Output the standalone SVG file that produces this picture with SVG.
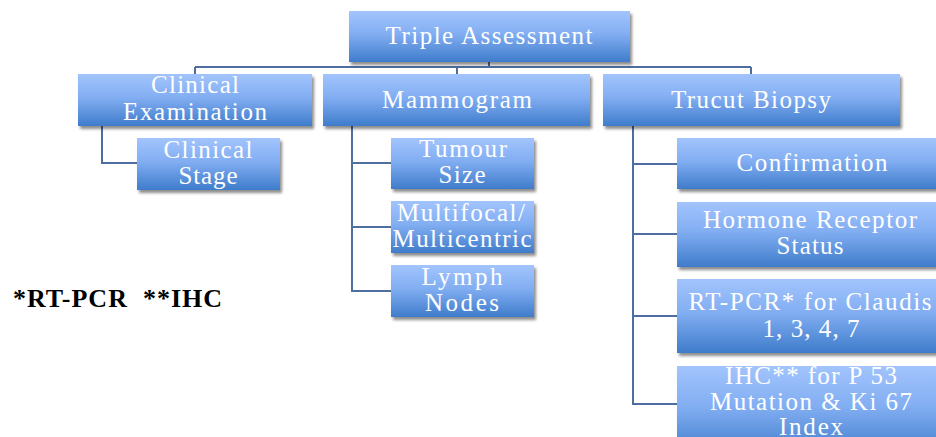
<svg xmlns="http://www.w3.org/2000/svg" width="936" height="437" viewBox="0 0 936 437">
<defs>
<linearGradient id="g" x1="0" y1="0" x2="0" y2="1">
<stop offset="0" stop-color="#A2C4FD"/>
<stop offset="0.45" stop-color="#82AEF2"/>
<stop offset="1" stop-color="#3F7CCB"/>
</linearGradient>
<filter id="sh" x="-10%" y="-10%" width="125%" height="140%">
<feGaussianBlur in="SourceAlpha" stdDeviation="1.6"/>
<feOffset dx="2" dy="3" result="b"/>
<feComponentTransfer><feFuncA type="linear" slope="0.45"/></feComponentTransfer>
<feMerge><feMergeNode/><feMergeNode in="SourceGraphic"/></feMerge>
</filter>
</defs>
<style>
rect.box{fill:url(#g);filter:url(#sh);}
.f{font-family:"Times New Roman",Tinos,Times,"Nimbus Roman","Nimbus Roman No9 L",FreeSerif,"Noto Serif","DejaVu Serif","Liberation Serif",serif;}
text.t{font-size:25px;fill:#ffffff;text-anchor:middle;}
.c path{fill:none;stroke:#4D6E9E;stroke-width:2;}
text.note{font-size:26px;font-weight:bold;fill:#000;}
</style>
<rect width="936" height="437" fill="#ffffff"/>
<g class="c">
<path d="M489 62 V67 M195 67 H751 M195 67 V74 M457 67 V74 M751 67 V74"/>
<path d="M102 126 V163 H137"/>
<path d="M352 126 V291 H391 M352 163 H391 M352 227 H391"/>
<path d="M633 126 V404 H677 M633 164 H677 M633 234 H677 M633 316 H677"/>
</g>
<g class="f">
<g id="n-triple"><rect class="box" x="349" y="11" width="281" height="51"/><text class="t" x="489" y="44" textLength="207" lengthAdjust="spacing">Triple Assessment</text></g>
<g id="n-clinical-exam"><rect class="box" x="78" y="74" width="234" height="52"/><text class="t" x="195" y="93" textLength="88" lengthAdjust="spacing">Clinical</text><text class="t" x="195" y="120" textLength="144" lengthAdjust="spacing">Examination</text></g>
<g id="n-mammogram"><rect class="box" x="323" y="74" width="267" height="52"/><text class="t" x="457" y="108" textLength="150" lengthAdjust="spacing">Mammogram</text></g>
<g id="n-trucut"><rect class="box" x="603" y="74" width="297" height="52"/><text class="t" x="751" y="108" textLength="160" lengthAdjust="spacing">Trucut Biopsy</text></g>
<g id="n-clinical-stage"><rect class="box" x="137" y="138" width="143" height="52"/><text class="t" x="208" y="158" textLength="89" lengthAdjust="spacing">Clinical</text><text class="t" x="208" y="184" textLength="59" lengthAdjust="spacing">Stage</text></g>
<g id="n-tumour"><rect class="box" x="391" y="138" width="143" height="51"/><text class="t" x="463" y="157" textLength="88" lengthAdjust="spacing">Tumour</text><text class="t" x="462" y="183" textLength="47" lengthAdjust="spacing">Size</text></g>
<g id="n-multi"><rect class="box" x="391" y="201" width="143" height="52"/><text class="t" x="461" y="221" textLength="128" lengthAdjust="spacing">Multifocal/</text><text class="t" x="462" y="247" textLength="139" lengthAdjust="spacing">Multicentric</text></g>
<g id="n-lymph"><rect class="box" x="391" y="265" width="143" height="52"/><text class="t" x="462" y="285" textLength="81" lengthAdjust="spacing">Lymph</text><text class="t" x="462" y="311" textLength="74" lengthAdjust="spacing">Nodes</text></g>
<g id="n-confirm"><rect class="box" x="677" y="138" width="270" height="51"/><text class="t" x="812" y="171" textLength="151" lengthAdjust="spacing">Confirmation</text></g>
<g id="n-hormone"><rect class="box" x="677" y="202" width="270" height="65"/><text class="t" x="810" y="228" textLength="214" lengthAdjust="spacing">Hormone Receptor</text><text class="t" x="810" y="254" textLength="67" lengthAdjust="spacing">Status</text></g>
<g id="n-rtpcr"><rect class="box" x="677" y="279" width="270" height="74"/><text class="t" x="810" y="310" textLength="243" lengthAdjust="spacing">RT-PCR* for Claudis</text><text class="t" x="811" y="337" textLength="97" lengthAdjust="spacing">1, 3, 4, 7</text></g>
<g id="n-ihc"><rect class="box" x="677" y="366" width="270" height="90"/><text class="t" x="811" y="384" textLength="172" lengthAdjust="spacing">IHC** for P 53</text><text class="t" x="811" y="410" textLength="202" lengthAdjust="spacing">Mutation &amp; Ki 67</text><text class="t" x="811" y="435" textLength="64" lengthAdjust="spacing">Index</text></g>
<text class="note" x="13" y="307" xml:space="preserve" textLength="209" lengthAdjust="spacing">*RT-PCR  **IHC</text>
</g>
</svg>
